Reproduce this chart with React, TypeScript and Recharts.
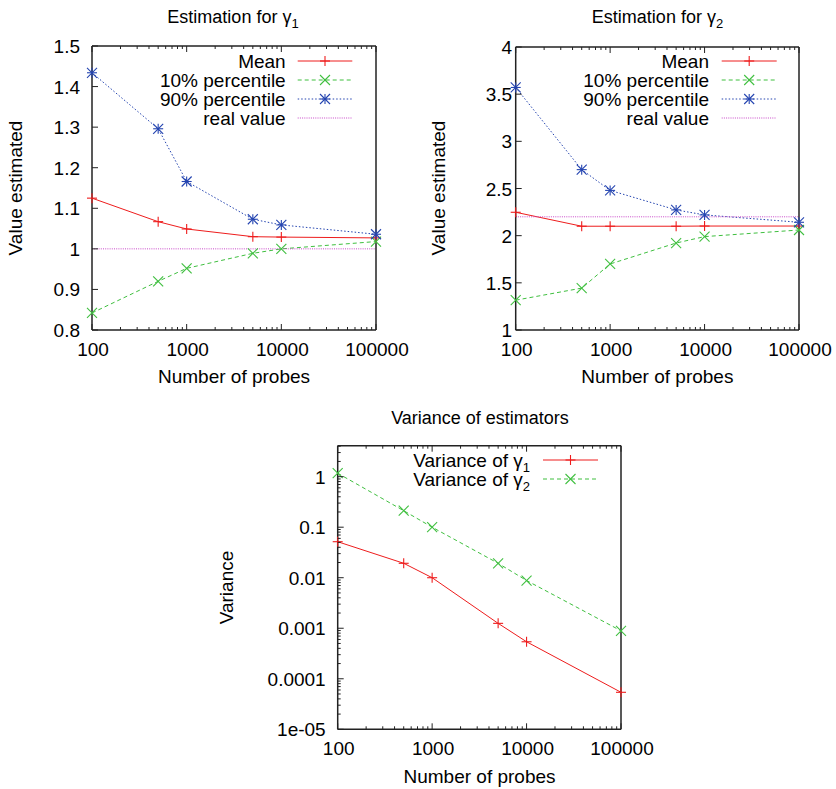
import React from 'react';
import { LineChart, Line, XAxis, YAxis, Customized } from 'recharts';

const FONT = '"Liberation Sans", Arial, Helvetica, sans-serif';

// ---------- data ----------
const probes = [100, 500, 1000, 5000, 10000, 100000];

const g1Mean = [1.125, 1.067, 1.049, 1.030, 1.029, 1.027];
const g1P10 = [0.842, 0.920, 0.952, 0.989, 1.000, 1.018];
const g1P90 = [1.434, 1.296, 1.166, 1.073, 1.059, 1.036];
const g1Real = [1, 1, 1, 1, 1, 1];

const g2Mean = [2.248, 2.100, 2.100, 2.100, 2.102, 2.102];
const g2P10 = [1.316, 1.444, 1.700, 1.922, 1.990, 2.060];
const g2P90 = [3.571, 2.700, 2.480, 2.273, 2.220, 2.142];
const g2Real = [2.2, 2.2, 2.2, 2.2, 2.2, 2.2];

const varG1 = [0.0516, 0.0193, 0.0100, 0.00125, 0.00054, 0.000054];
const varG2 = [1.17, 0.212, 0.100, 0.0193, 0.0088, 0.00089];

// ---------- ticks ----------
const xMajor = [100, 1000, 10000, 100000];
const xMajorLabels = ['100', '1000', '10000', '100000'];
const xMinor: number[] = [];
for (const d of [100, 1000, 10000]) for (let k = 2; k <= 9; k++) xMinor.push(k * d);
const xAllTicks = [...xMajor, ...xMinor].sort((a, b) => a - b);

const y1Ticks = [0.8, 0.9, 1.0, 1.1, 1.2, 1.3, 1.4, 1.5];
const y1Labels = ['0.8', '0.9', '1', '1.1', '1.2', '1.3', '1.4', '1.5'];
const y2Ticks = [1, 1.5, 2, 2.5, 3, 3.5, 4];
const y2Labels = ['1', '1.5', '2', '2.5', '3', '3.5', '4'];
const y3Major = [1e-5, 1e-4, 1e-3, 1e-2, 1e-1, 1];
const y3Labels = ['1e-05', '0.0001', '0.001', '0.01', '0.1', '1'];
const y3Top = 4.1;
const y3Minor: number[] = [];
for (const d of y3Major) for (let k = 2; k <= 9; k++) if (k * d <= y3Top) y3Minor.push(k * d);
const y3AllTicks = [...y3Major, ...y3Minor].sort((a, b) => a - b);

// ---------- styles ----------
const RED = '#ee1c1c';
const GREEN = '#3fbf3f';
const BLUE = '#2444b0';
const MAGENTA = '#c848c8';
const DASH_GREEN = '4 3';
const DASH_BLUE = '1.5 2';
const DASH_MAG = '1 1.2';
const FS = 19;
const FS_TITLE = 18;

const data1 = probes.map((p, i) => ({ x: p, mean: g1Mean[i], p10: g1P10[i], p90: g1P90[i], real: g1Real[i] }));
const data2 = probes.map((p, i) => ({ x: p, mean: g2Mean[i], p10: g2P10[i], p90: g2P90[i], real: g2Real[i] }));
const data3 = probes.map((p, i) => ({ x: p, v1: varG1[i], v2: varG2[i] }));

// ---------- markers ----------
type MK = 'plus' | 'cross' | 'star' | 'none';
function Marker({ cx, cy, kind, color }: { cx: number; cy: number; kind: MK; color: string }) {
  const s = 5;
  if (kind === 'none' || cx == null || cy == null) return null;
  const plus = (
    <>
      <line x1={cx - s} y1={cy} x2={cx + s} y2={cy} />
      <line x1={cx} y1={cy - s} x2={cx} y2={cy + s} />
    </>
  );
  const cross = (
    <>
      <line x1={cx - s} y1={cy - s} x2={cx + s} y2={cy + s} />
      <line x1={cx - s} y1={cy + s} x2={cx + s} y2={cy - s} />
    </>
  );
  return (
    <g stroke={color} strokeWidth={1.1} fill="none">
      {kind === 'plus' && plus}
      {kind === 'cross' && cross}
      {kind === 'star' && (
        <>
          {plus}
          {cross}
        </>
      )}
    </g>
  );
}

const dotFn = (kind: MK, color: string) => (p: any) => (
  <Marker key={`m-${kind}-${p.index}`} cx={p.cx} cy={p.cy} kind={kind} color={color} />
);

// ---------- ticks ----------
function findMajor(v: number, majors: number[]) {
  return majors.findIndex((m) => Math.abs(v - m) <= Math.abs(m) * 1e-9);
}

type Side = 'bottom' | 'top' | 'left' | 'right';
function makeTick(side: Side, majors: number[], labels: string[] | null, gap: number, allMajor = false) {
  return (props: any) => {
    const { x, y, payload, index } = props;
    const v = payload.value;
    const idx = findMajor(v, majors);
    const major = allMajor || idx >= 0;
    const len = major ? 6 : 3;
    let line: React.ReactNode = null;
    let label: React.ReactNode = null;
    const txt = labels && idx >= 0 ? labels[idx] : null;
    if (side === 'bottom') {
      line = <line x1={x} y1={y} x2={x} y2={y - len} />;
      if (txt) label = <text x={x + 1} y={y + 26} textAnchor="middle">{txt}</text>;
    } else if (side === 'top') {
      line = <line x1={x} y1={y} x2={x} y2={y + len} />;
    } else if (side === 'left') {
      line = <line x1={x} y1={y} x2={x + len} y2={y} />;
      if (txt) label = <text x={x - gap} y={y + 7} textAnchor="end">{txt}</text>;
    } else {
      line = <line x1={x} y1={y} x2={x - len} y2={y} />;
    }
    return (
      <g key={`t-${side}-${index}`}>
        <g stroke="#222" strokeWidth={1}>{line}</g>
        {label && (
          <g fill="#000" fontFamily={FONT} fontSize={FS}>
            {label}
          </g>
        )}
      </g>
    );
  };
}

// ---------- legend / labels ----------
type LegendEntry = { label: React.ReactNode; color: string; dash?: string; marker: MK };
function legendNode(entries: LegendEntry[], textRight: number, lx1: number, lx2: number, rows: number[]) {
  const mx = (lx1 + lx2) / 2;
  return (
    <g>
      {entries.map((e, i) => (
        <g key={`lg-${i}`}>
          <text x={textRight} y={rows[i] + 7} textAnchor="end" fontFamily={FONT} fontSize={FS} fill="#000">
            {e.label}
          </text>
          <line x1={lx1} y1={rows[i]} x2={lx2} y2={rows[i]} stroke={e.color} strokeWidth={1} strokeDasharray={e.dash} />
          <Marker cx={mx} cy={rows[i]} kind={e.marker} color={e.color} />
        </g>
      ))}
    </g>
  );
}

function gammaLabel(prefix: string, sub: string) {
  return (
    <>
      {prefix}γ<tspan dy={5} fontSize={13}>{sub}</tspan>
    </>
  );
}

function textsNode(
  title: React.ReactNode,
  titleX: number,
  titleY: number,
  xlabX: number,
  xlabY: number,
  ylab: string,
  ylabX: number,
  ylabY: number
) {
  return (
    <g fontFamily={FONT} fontSize={FS} fill="#000">
      <text x={titleX} y={titleY} textAnchor="middle" fontSize={FS_TITLE}>{title}</text>
      <text x={xlabX} y={xlabY} textAnchor="middle">Number of probes</text>
      <text x={ylabX + 7} y={ylabY} textAnchor="middle" transform={`rotate(-90, ${ylabX + 7}, ${ylabY})`}>
        {ylab}
      </text>
    </g>
  );
}

const axisLineStyle = { stroke: '#222', strokeWidth: 1.5 };

// margins are given for the plot box; each axis occupies 1px so subtract 1
function m(top: number, right: number, bottom: number, left: number) {
  return { top: top - 1, right: right - 1, bottom: bottom - 1, left: left - 1 };
}

function frameAxes(
  yDomain: [number, number],
  yTicksAll: number[],
  yMajors: number[],
  yLabels: string[],
  yGap: number,
  yLog: boolean
) {
  return [
    <XAxis
      key="xb"
      xAxisId="b"
      dataKey="x"
      type="number"
      scale="log"
      domain={[100, 100000]}
      ticks={xAllTicks}
      interval={0}
      height={1}
      tickSize={0}
      tickMargin={0}
      tickLine={false}
      axisLine={axisLineStyle}
      tick={makeTick('bottom', xMajor, xMajorLabels, 0)}
    />,
    <XAxis
      key="xt"
      xAxisId="t"
      orientation="top"
      dataKey="x"
      type="number"
      scale="log"
      domain={[100, 100000]}
      ticks={xAllTicks}
      interval={0}
      height={1}
      tickSize={0}
      tickMargin={0}
      tickLine={false}
      axisLine={axisLineStyle}
      tick={makeTick('top', xMajor, null, 0)}
    />,
    <YAxis
      key="yl"
      yAxisId="l"
      type="number"
      scale={yLog ? 'log' : 'linear'}
      domain={yDomain}
      ticks={yTicksAll}
      interval={0}
      width={1}
      tickSize={0}
      tickMargin={0}
      tickLine={false}
      axisLine={axisLineStyle}
      tick={makeTick('left', yMajors, yLabels, yGap, !yLog)}
    />,
    <YAxis
      key="yr"
      yAxisId="r"
      orientation="right"
      type="number"
      scale={yLog ? 'log' : 'linear'}
      domain={yDomain}
      ticks={yTicksAll}
      interval={0}
      width={1}
      tickSize={0}
      tickMargin={0}
      tickLine={false}
      axisLine={axisLineStyle}
      tick={makeTick('right', yMajors, null, 0, !yLog)}
    />,
  ];
}

function EstimationChart({ data, domain, ticks, labels, gap, margin, width, height, sub, legendPos, texts }: any) {
  const entries: LegendEntry[] = [
    { label: 'Mean', color: RED, marker: 'plus' },
    { label: '10% percentile', color: GREEN, dash: DASH_GREEN, marker: 'cross' },
    { label: '90% percentile', color: BLUE, dash: DASH_BLUE, marker: 'star' },
    { label: 'real value', color: MAGENTA, dash: DASH_MAG, marker: 'none' },
  ];
  return (
    <LineChart width={width} height={height} data={data} margin={margin}>
      {frameAxes(domain, ticks, ticks, labels, gap, false)}
      <Line xAxisId="b" yAxisId="l" dataKey="mean" stroke={RED} strokeWidth={1} isAnimationActive={false} dot={dotFn('plus', RED)} activeDot={false} />
      <Line xAxisId="b" yAxisId="l" dataKey="p10" stroke={GREEN} strokeWidth={1} strokeDasharray={DASH_GREEN} isAnimationActive={false} dot={dotFn('cross', GREEN)} activeDot={false} />
      <Line xAxisId="b" yAxisId="l" dataKey="p90" stroke={BLUE} strokeWidth={1} strokeDasharray={DASH_BLUE} isAnimationActive={false} dot={dotFn('star', BLUE)} activeDot={false} />
      <Line xAxisId="b" yAxisId="l" dataKey="real" stroke={MAGENTA} strokeWidth={1} strokeDasharray={DASH_MAG} isAnimationActive={false} dot={false} activeDot={false} />
      <Customized
        component={() => (
          <g>
            {legendNode(entries, legendPos[0], legendPos[1], legendPos[2], [61, 80, 99, 118])}
            {texts(gammaLabel('Estimation for ', sub))}
          </g>
        )}
      />
    </LineChart>
  );
}

export default function App() {
  const varEntries: LegendEntry[] = [
    { label: gammaLabel('Variance of ', '1'), color: RED, marker: 'plus' },
    { label: gammaLabel('Variance of ', '2'), color: GREEN, dash: DASH_GREEN, marker: 'cross' },
  ];
  return (
    <div style={{ position: 'absolute', left: 0, top: 0, width: 836, height: 789, background: '#fff', overflow: 'hidden' }}>
      <div style={{ position: 'absolute', left: 0, top: 0 }}>
        <EstimationChart
          data={data1}
          domain={[0.8, 1.5]}
          ticks={y1Ticks}
          labels={y1Labels}
          gap={12}
          width={420}
          height={390}
          margin={m(46, 44, 60, 92)}
          sub="1"
          legendPos={[285.7, 297.7, 352.3]}
          texts={(title: React.ReactNode) => textsNode(title, 233, 23, 234, 383, 'Value estimated', 15, 188)}
        />
      </div>
      <div style={{ position: 'absolute', left: 420, top: 0 }}>
        <EstimationChart
          data={data2}
          domain={[1, 4]}
          ticks={y2Ticks}
          labels={y2Labels}
          gap={3.5}
          width={416}
          height={390}
          margin={m(47, 37, 60, 95.7)}
          sub="2"
          legendPos={[289, 301.7, 356.7]}
          texts={(title: React.ReactNode) => textsNode(title, 237.5, 23, 237.4, 383, 'Value estimated', 18.3, 188)}
        />
      </div>
      <div style={{ position: 'absolute', left: 210, top: 380 }}>
        <LineChart width={480} height={409} data={data3} margin={m(65.7, 69, 59.7, 127.7)}>
          {frameAxes([1e-5, y3Top], y3AllTicks, y3Major, y3Labels, 12, true)}
          <Line xAxisId="b" yAxisId="l" dataKey="v1" stroke={RED} strokeWidth={1} isAnimationActive={false} dot={dotFn('plus', RED)} activeDot={false} />
          <Line xAxisId="b" yAxisId="l" dataKey="v2" stroke={GREEN} strokeWidth={1} strokeDasharray={DASH_GREEN} isAnimationActive={false} dot={dotFn('cross', GREEN)} activeDot={false} />
          <Customized
            component={() => (
              <g>
                {legendNode(varEntries, 320, 333, 388, [80, 99])}
                {textsNode('Variance of estimators', 270, 44, 269.5, 403, 'Variance', 16, 207.5)}
              </g>
            )}
          />
        </LineChart>
      </div>
    </div>
  );
}
